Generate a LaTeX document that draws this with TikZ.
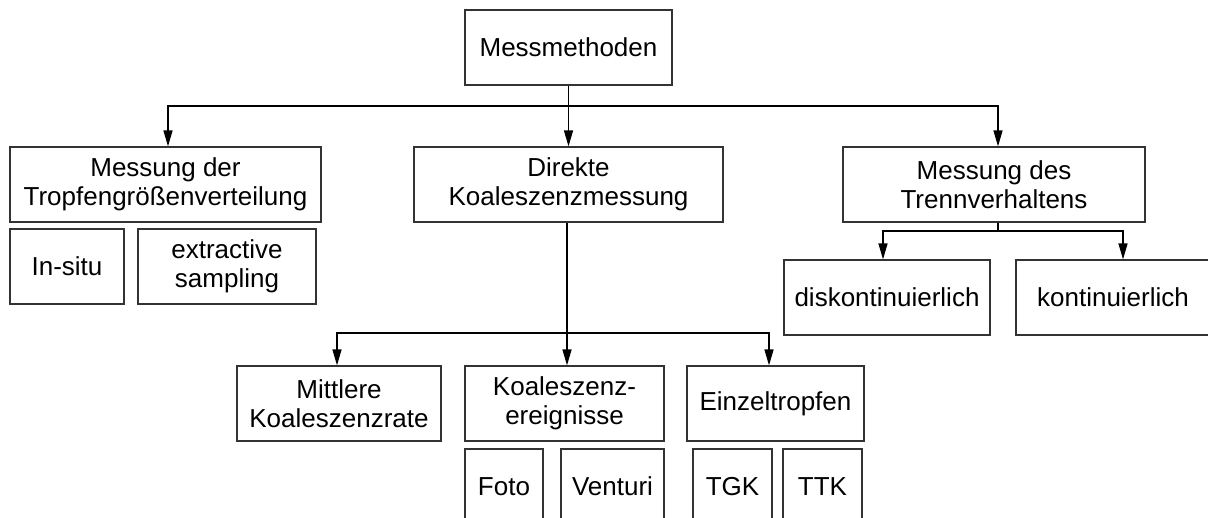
\documentclass[tikz,border=0pt]{standalone}
\usepackage{fontspec}
\setmainfont{Liberation Sans}
\usetikzlibrary{arrows.meta}

\tikzset{
    box/.style={draw=black!80, line width=0.6pt, align=center, inner sep=0pt,
        minimum height=37.5pt, font=\fontsize{13}{14.7}\selectfont},
    arr/.style={line width=0.7pt, -{Triangle[length=8pt,width=4.5pt]}}
}

\begin{document}
\begin{tikzpicture}[x=0.5pt, y=-0.5pt]
    \useasboundingbox (0,0) rectangle (1208,518);

    % top level
    \node[box, minimum width=103.5pt] (mm) at (568.5,47.5) {Messmethoden};

    % second level
    \node[box, minimum width=155.5pt] (tgv) at (165.5,184.5) {Messung der\\Tropfengrößenverteilung};
    \node[box, minimum width=154.5pt] (dkm) at (568.5,184.5) {Direkte\\Koaleszenzmessung};
    \node[box, minimum width=151pt] (trenn) at (994,184.5) {Messung des\\Trennverhaltens};

    % under Tropfengroessenverteilung
    \node[box, minimum width=57pt] (insitu) at (67,266.5) {In-situ};
    \node[box, minimum width=89pt] (extr) at (227,266.5) {extractive\\sampling};

    % under Trennverhalten
    \node[box, minimum width=103pt] (disk) at (887,297.5) {diskontinuierlich};
    \node[box, minimum width=97pt] (kont) at (1113,297.5) {kontinuierlich};

    % under Koaleszenzmessung
    \node[box, minimum width=102pt] (mitt) at (339,403.5) {Mittlere\\Koaleszenzrate};
    \node[box, minimum width=99.5pt] (koal) at (564.5,403.5) {Koaleszenz-\\ereignisse};
    \node[box, minimum width=88.5pt] (einz) at (775.5,403.5) {Einzeltropfen};

    % bottom row
    \node[box, minimum width=39pt] (foto) at (504,486.5) {Foto};
    \node[box, minimum width=51.5pt] (venturi) at (612.5,486.5) {Venturi};
    \node[box, minimum width=39.5pt] (tgk) at (732.5,486.5) {TGK};
    \node[box, minimum width=39.5pt] (ttk) at (822.5,486.5) {TTK};

    % connectors
    \coordinate (b1) at (568.5,106);
    \draw[line width=0.7pt] (mm.south) -- (b1);
    \draw[arr] (b1) -| ([xshift=1.25pt]tgv.north);
    \draw[arr] (b1) -- (dkm.north);
    \draw[arr] (b1) -| ([xshift=2pt]trenn.north);

    \coordinate (b2) at (998,231);
    \draw[line width=0.7pt] ([xshift=2pt]trenn.south) -- (b2);
    \draw[arr] (b2) -| ([xshift=-2pt]disk.north);
    \draw[arr] (b2) -| ([xshift=5pt]kont.north);

    \coordinate (b3) at (567,333);
    \draw[line width=0.7pt] (b3 |- dkm.south) -- (b3);
    \draw[arr] (b3) -| ([xshift=-1pt]mitt.north);
    \draw[arr] (b3) -- (b3 |- koal.north);
    \draw[arr] (b3) -| ([xshift=-3.25pt]einz.north);
\end{tikzpicture}
\end{document}
